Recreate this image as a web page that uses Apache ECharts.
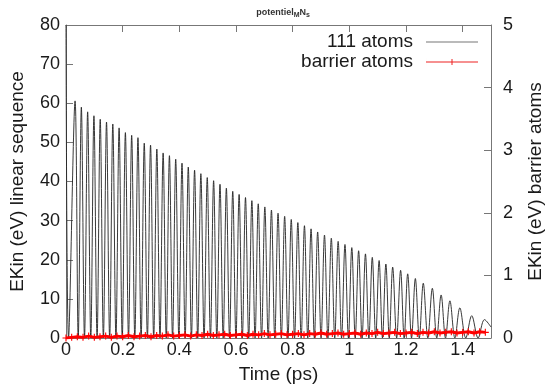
<!DOCTYPE html>
<html><head><meta charset="utf-8">
<script src="https://cdn.jsdelivr.net/npm/echarts@6/dist/echarts.min.js"></script>
<style>html,body{margin:0;padding:0;background:#fff}#c{width:553px;height:389px}</style>
</head><body><div id="c"></div>
<script>
// Time axis ticks (ps)
var xTicks = [0, 0.2, 0.4, 0.6, 0.8, 1, 1.2, 1.4];
// 111 atoms: start, peaks and troughs of the oscillation
var startTime = [0, 0.009];
var startEKin = [80, 0];
var peakTime = [0.032,0.0542,0.0764,0.0986,0.1208,0.1430,0.1652,0.1874,0.2096,0.2318,0.2540,0.2762,0.2984,0.3206,0.3428,0.3650,0.3872,0.4094,0.4316,0.4538,0.4760,
  0.4985,0.5210,0.5435,0.5660,0.5885,0.6110,0.6335,0.6560,0.6785,0.7018,0.7251,0.7484,0.7717,0.7950,0.8183,0.8416,0.8649,0.8882,
  0.9123,0.9364,0.9605,0.9846,1.0087,1.0328,1.0569,1.0810,1.1051,1.129,1.153,1.181,1.206,1.233,1.261,1.293,1.324,1.355,1.390,1.432,1.477];
var peakEKin = [60.6,59.0,57.8,56.8,55.9,55.2,54.7,53.7,52.5,51.8,51.2,49.8,49.3,48.3,47.3,46.6,45.7,44.7,43.7,42.9,42.0,
  41.0,40.2,39.3,38.3,37.5,36.7,35.9,35.1,34.3,33.5,32.7,31.9,31.1,30.3,29.5,28.7,27.9,27.1,
  26.3,25.5,24.7,23.9,23.1,22.3,21.5,20.6,19.8,18.9,18.1,17.3,16.4,15.2,14.0,12.7,11.0,9.5,7.7,5.7,4.7];
var troughTime = [0.0431,0.0653,0.0875,0.1097,0.1319,0.1541,0.1763,0.1985,0.2207,0.2429,0.2651,0.2873,0.3095,0.3317,0.3539,0.3761,0.3983,0.4205,0.4427,0.4649,0.4873,
  0.5098,0.5323,0.5548,0.5773,0.5998,0.6223,0.6448,0.6673,0.6902,0.7135,0.7368,0.7601,0.7834,0.8067,0.8300,0.8533,0.8766,0.9003,
  0.9244,0.9485,0.9726,0.9967,1.0208,1.0449,1.0690,1.0931,1.117,1.141,1.167,1.1935,1.2195,1.247,1.277,1.3085,1.3395,1.3725,1.411,1.4545,1.5];
var troughEKin = [0,0,0,0,0,0,0,0,0,0,0,0,0,0,0,0,0,0,0,0,0,
  0,0,0,0,0,0,0,0,0,0,0,0,0,0,0,0,0,0,
  0,0,0,0,0,0,0,0,0,0,0,0,0,0,0,0,0,0,0,0,2.8];
// barrier atoms (right axis, eV)
var redTime = [0,0.02,0.04,0.06,0.08,0.1,0.12,0.14,0.16,0.18,0.2,0.22,0.24,0.26,0.28,0.3,0.32,0.34,0.36,0.38,0.4,0.42,0.44,0.46,0.48,0.5,0.52,0.54,0.56,0.58,0.6,0.62,0.64,0.66,0.68,0.7,0.72,0.74,0.76,0.78,0.8,0.82,0.84,0.86,0.88,0.9,0.92,0.94,0.96,0.98,1,1.02,1.04,1.06,1.08,1.1,1.12,1.14,1.16,1.18,1.2,1.22,1.24,1.26,1.28,1.3,1.32,1.34,1.36,1.38,1.4,1.42,1.44,1.46,1.48];
var redEKin = [0.0,0.01,0.02,0.01,0.03,0.01,0.02,0.03,0.01,0.03,0.02,0.04,0.02,0.03,0.04,0.02,0.04,0.03,0.05,0.03,0.04,0.05,0.03,0.05,0.04,0.06,0.04,0.05,0.06,0.04,0.05,0.06,0.04,0.06,0.05,0.07,0.05,0.06,0.07,0.05,0.06,0.07,0.05,0.07,0.06,0.08,0.06,0.07,0.08,0.06,0.07,0.08,0.06,0.08,0.07,0.09,0.07,0.08,0.09,0.07,0.08,0.09,0.07,0.09,0.08,0.1,0.08,0.09,0.1,0.08,0.09,0.1,0.08,0.1,0.09];

var blackData = [];
for (var i = 0; i < startTime.length; i++) blackData.push([startTime[i], startEKin[i]]);
for (var k = 0; k < peakTime.length; k++) {
  blackData.push([peakTime[k], peakEKin[k]]);
  if (k < troughTime.length) blackData.push([troughTime[k], troughEKin[k]]);
}
var redData = redTime.map(function (t, i) { return [t, redEKin[i]]; });

var FONT = 'Liberation Sans, Arial, sans-serif';
var TXT = '#1a1a1a';
var AX = '#777';
var plus = 'path://M0.42,0H0.58V0.42H1V0.58H0.58V1H0.42V0.58H0V0.42H0.42Z';
var iconBlack = 'path://M0,0H52V1H0Z';
var iconRed = 'path://M0,3.5H52V4.5H0Z M25.5,1H26.5V7H25.5Z M0,0H0.01V8H0Z';
var chart = echarts.init(document.getElementById('c'), null, {renderer: 'canvas'});
function tick() { return {inside: true, length: 7, lineStyle: {color: AX, width: 1}}; }
chart.setOption({
  animation: false,
  backgroundColor: '#fff',
  title: {
    text: '{a|potentiel}{s|M}{a|N}{s|s}',
    left: 278, top: 2, textAlign: 'center',
    textStyle: {rich: {a: {fontSize: 9, fontFamily: FONT, color: '#333'}, s: {fontSize: 7, fontFamily: FONT, color: '#333', verticalAlign: 'bottom', padding: [5, 0, 0, 0]}}}
  },
  legend: {
    right: 70, top: 27, orient: 'vertical', align: 'right', itemGap: 0,
    itemWidth: 52, itemHeight: 8,
    textStyle: {fontSize: 19, lineHeight: 20, fontFamily: FONT, color: TXT, padding: [0, 8, 0, 0]},
    data: [{name: '111 atoms', icon: iconBlack, itemStyle: {color: '#777'}},
           {name: 'barrier atoms', icon: iconRed, itemStyle: {color: '#ee2222'}}]
  },
  grid: {left: 66, right: 56, top: 25, bottom: 43},
  xAxis: [{
    type: 'value', min: 0, max: 1.5, interval: 0.2,
    name: 'Time (ps)', nameLocation: 'middle', nameGap: 27,
    nameTextStyle: {fontSize: 19, fontFamily: FONT, color: TXT},
    axisLine: {onZero: false, lineStyle: {color: AX, width: 1}},
    axisTick: tick(),
    axisLabel: {fontSize: 18, fontFamily: FONT, color: TXT, margin: 3, showMaxLabel: false,
      formatter: function (v) { var r = Math.round(v * 10) / 10; return xTicks.indexOf(r) >= 0 ? String(r) : ''; }},
    splitLine: {show: false}
  }, {
    type: 'value', min: 0, max: 1.5, interval: 0.2, position: 'top',
    axisLine: {onZero: false, lineStyle: {color: AX}}, axisTick: tick(),
    axisLabel: {show: false}, splitLine: {show: false}
  }],
  yAxis: [{
    type: 'value', min: 0, max: 80, interval: 10,
    name: 'EKin (eV) linear sequence', nameLocation: 'middle', nameGap: 39, nameRotate: 90,
    nameTextStyle: {fontSize: 19, fontFamily: FONT, color: TXT},
    axisLine: {show: true, onZero: false, lineStyle: {color: AX}},
    axisTick: tick(),
    axisLabel: {fontSize: 18, fontFamily: FONT, color: TXT, margin: 6},
    splitLine: {show: false}
  }, {
    type: 'value', min: 0, max: 5, interval: 1, position: 'right',
    name: 'EKin (eV) barrier atoms', nameLocation: 'middle', nameGap: 35, nameRotate: 90,
    nameTextStyle: {fontSize: 19, fontFamily: FONT, color: TXT},
    axisLine: {show: true, onZero: false, lineStyle: {color: AX}},
    axisTick: tick(),
    axisLabel: {fontSize: 18, fontFamily: FONT, color: TXT, margin: 12},
    splitLine: {show: false}
  }],
  series: [{
    name: '111 atoms', type: 'line', xAxisIndex: 0, yAxisIndex: 0,
    data: blackData, showSymbol: false, symbol: 'none', smooth: 0.35,
    lineStyle: {color: '#222', width: 0.9}, itemStyle: {color: '#777'}
  }, {
    name: 'barrier atoms', type: 'line', xAxisIndex: 0, yAxisIndex: 1,
    data: redData, symbol: plus, symbolSize: 7, showSymbol: true,
    lineStyle: {color: '#ff0000', width: 3}, itemStyle: {color: '#ff0000'}
  }]
});
</script></body></html>
